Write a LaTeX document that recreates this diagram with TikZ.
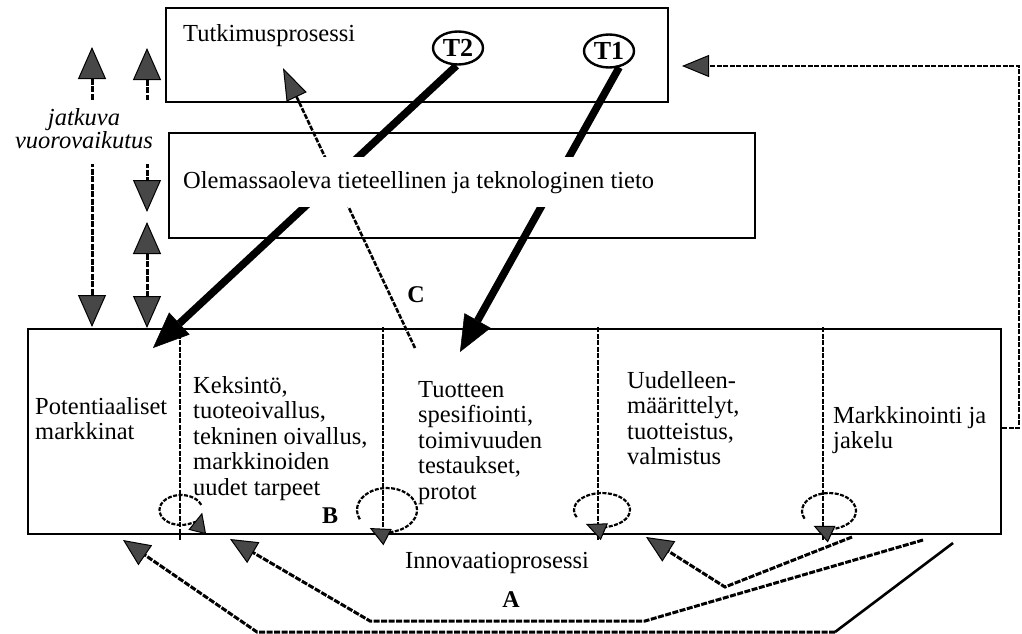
\documentclass[tikz,border=0pt]{standalone}
\usepackage{fontspec}
\setmainfont{Liberation Serif}
\usetikzlibrary{arrows.meta,shapes.geometric}
\definecolor{hatchc}{gray}{0.28}
\newcommand{\mlines}[1]{\begin{tabular}[t]{@{}l@{}}#1\end{tabular}}
\newcommand{\clines}[1]{\begin{tabular}[t]{@{}c@{}}#1\end{tabular}}
\tikzset{
  box/.style={draw, line width=2.6pt, inner sep=0pt},
  txt/.style={font=\fontsize{24.5}{25.5}\selectfont, inner sep=0pt, anchor=base west},
  lbl/.style={font=\fontsize{24}{24}\selectfont\bfseries, inner sep=0pt},
  tnode/.style={ellipse, draw, line width=2.4pt, minimum width=50pt, minimum height=33pt, inner sep=0pt, font=\fontsize{26}{26}\selectfont\bfseries},
  thickarr/.style={line width=7.5pt, -{Triangle[length=36pt,width=30pt,line width=0.5pt]}},
  hline/.style={line width=3pt, dash pattern=on 6pt off 1.5pt},
  divider/.style={line width=2.2pt, dash pattern=on 5pt off 1.5pt},
  thinline/.style={line width=2.2pt, dash pattern=on 5pt off 1.5pt},
  loopline/.style={line width=2.2pt, dash pattern=on 4pt off 1.5pt},
  hend/.style={-{Triangle[length=27pt,width=24pt,line width=1pt,fill=hatchc]}},
  hboth/.style={{Triangle[length=32pt,width=28pt,line width=1pt,fill=hatchc]}-{Triangle[length=32pt,width=28pt,line width=1pt,fill=hatchc]}},
  smallend/.style={-{Triangle[length=20pt,width=18pt,line width=1pt,fill=hatchc]}},
}
\begin{document}
\begin{tikzpicture}[x=1pt,y=-1pt]
\useasboundingbox (0,0) rectangle (1022,634);
\fill[white] (0,0) rectangle (1022,634);

% boxes
\node[box, minimum width=502pt, minimum height=94pt] (tutk) at (417,55) {};
\node[box, minimum width=586pt, minimum height=105pt] (olem) at (462,185.5) {};
\node[box, minimum width=973pt, minimum height=205pt] (inno) at (514.5,431.5) {};

% dividers
\foreach \dx in {180,383,598,823} \draw[divider] (\dx,327) -- (\dx,541);

% top box contents
\node[txt] (tutkt) at (183,42) {Tutkimusprosessi};
\node[tnode] (T2) at (458,48) {T2};
\node[tnode] (T1) at (609,51) {T1};

% thick arrows and C line
\coordinate (t2tip) at (153,348);
\coordinate (t1tip) at (460,352);
\coordinate (cfoot) at (415,348);
\coordinate (ctip) at (283,68);
\draw[thickarr] (T2.-95) -- (t2tip);
\draw[thickarr] (T1.-58) -- (t1tip);
\draw[thinline, line width=2.6pt, -{Triangle[length=32pt,width=22pt,line width=1pt,fill=hatchc]}] (cfoot) -- (ctip);

\node[txt, fill=white, inner xsep=2pt, inner ysep=14pt] (olemt) at (181,188) {Olemassaoleva tieteellinen ja teknologinen tieto};

% left interaction arrows
\coordinate (c1top) at (92,47);
\coordinate (c1bot) at (92,327);
\coordinate (c2top) at (147,48);
\coordinate (c2mid) at (147,212);
\coordinate (c3top) at (147,222);
\coordinate (c3bot) at (147,328);
\draw[hline, hboth] (c1top) -- (c1bot);
\draw[hline, hboth] (c2top) -- (c2mid);
\draw[hline, hboth] (c3top) -- (c3bot);
\node[font=\fontsize{24.5}{23}\selectfont\itshape, fill=white, inner xsep=0pt, inner ysep=8pt, anchor=base] (jv) at (84,125) {\clines{jatkuva\\vuorovaikutus}};

% cell texts
\node[txt] (pm) at (35,414) {\mlines{Potentiaaliset\\markkinat}};
\node[txt] (kk) at (193,393) {\mlines{Keksintö,\\tuoteoivallus,\\tekninen oivallus,\\markkinoiden\\uudet tarpeet}};
\node[txt] (ts) at (418,397) {\mlines{Tuotteen\\spesifiointi,\\toimivuuden\\testaukset,\\protot}};
\node[txt] (um) at (627,388) {\mlines{Uudelleen-\\määrittelyt,\\tuotteistus,\\valmistus}};
\node[txt] (mj) at (833,423) {\mlines{Markkinointi ja\\jakelu}};
\node[txt] (ip) at (405,568) {Innovaatioprosessi};

% labels
\node[lbl] (B) at (330,516) {B};
\node[lbl] (C) at (416,295) {C};
\node[lbl] (A) at (511,600) {A};

% loops
\draw[loopline, smallend] (181,510) ++({21.5*cos(340)},{15*sin(340)}) arc[start angle=340, end angle=10, x radius=21.5, y radius=15];
\foreach \cx/\cy/\rx/\ry in {387/510/30/22, 602/510/28/17, 829/511/27/18}
  \draw[loopline, smallend] (\cx,\cy) ++({\rx*cos(-205)},{\ry*sin(-205)}) arc[start angle=-205, end angle=125, x radius=\rx, y radius=\ry];

% feedback arrows
\coordinate (f1s) at (953,543);
\coordinate (f1k) at (835,632);
\coordinate (f1h) at (257,632);
\coordinate (f1t) at (123,540);
\draw[line width=2.6pt] (f1s) -- (f1k);
\draw[hline, hend] (f1k) -- (f1h) -- (f1t);
\coordinate (f2s) at (923,540);
\coordinate (f2k) at (645,621);
\coordinate (f2h) at (370,621);
\coordinate (f2t) at (230,539);
\draw[hline, hend] (f2s) -- (f2k) -- (f2h) -- (f2t);
\coordinate (f3s) at (852,537);
\coordinate (f3k) at (725,587);
\coordinate (f3t) at (646,537);
\draw[hline, hend] (f3s) -- (f3k) -- (f3t);

% right feedback connector
\coordinate (r1) at (1019,428);
\coordinate (r2) at (1019,66);
\coordinate (rtip) at (682,66);
\draw[thinline, -{Triangle[length=27pt,width=22pt,line width=1pt,fill=hatchc]}] (inno.east |- r1) -- (r1) -- (r2) -- (rtip);
\end{tikzpicture}
\end{document}
